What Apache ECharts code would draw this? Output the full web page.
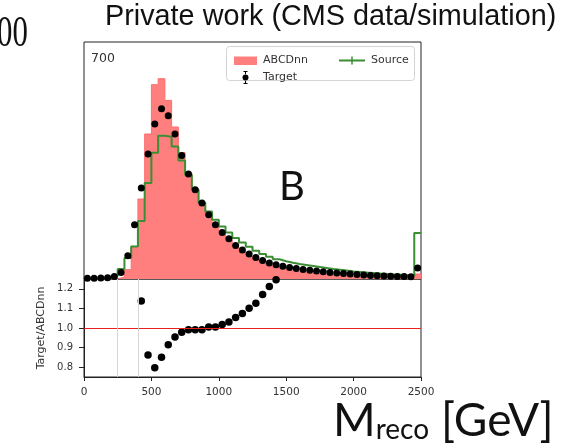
<!DOCTYPE html>
<html>
<head>
<meta charset="utf-8">
<script src="https://cdn.jsdelivr.net/npm/echarts@6/dist/echarts.min.js"></script>
<style>html,body{margin:0;padding:0;background:#fff}#c{width:564px;height:444px}</style>
</head>
<body>
<div id="c"></div>
<script>
// Bin edges (GeV)
const binEdges = [0,50,100,150,200,250,300,350,400,450,500,550,600,650,700,750,800,850,900,950,
  1000,1050,1100,1150,1200,1250,1300,1350,1400,1450,1500,1550,1600,1650,1700,1750,1800,1850,1900,1950,
  2000,2050,2100,2150,2200,2250,2300,2350,2400,2450,2500];
// Per-bin yields (arbitrary units)
const abcdnn = [0,0,0,0,0,20,93,326,800,1450,1943,2003,1786,1520,1264,1060,901,767,640,540,
  458,391,318,270,227,191,158,132,114,98,85,75,66,59,52,46,40,35,31,27,
  24,21,19,17,15,14,13,12,11,50];
const source = [8,8,8,9,30,100,210,326,580,960,1263,1433,1423,1326,1186,1043,893,763,676,593,
  526,466,410,365,322,283,250,222,198,178,162,150,140,130,120,110,100,92,84,76,
  70,64,59,54,50,46,42,38,35,460];
const target = [8,8,9,12,25,66,233,543,910,1250,1550,1703,1633,1450,1236,1050,893,760,643,543,
  466,403,335,290,250,215,185,160,142,127,115,105,96,88,80,73,66,60,54,49,
  44,40,36,33,30,28,26,24,23,110];
const xTicks = [0,500,1000,1500,2000,2500];
const ratioTicks = [0.8,0.9,1.0,1.1,1.2];
const refLinesX = [250,400];

const nb = abcdnn.length;
const centers = binEdges.slice(0, nb).map((e, i) => (e + binEdges[i + 1]) / 2);
const stepData = arr => binEdges.map((e, i) => [e, arr[Math.min(i, nb - 1)]]);
const ratioData = [];
for (let i = 0; i < nb; i++) {
  if (abcdnn[i] > 0) {
    const r = target[i] / abcdnn[i];
    if (r >= 0.75 && r <= 1.25) ratioData.push([centers[i], r]);
  }
}

const TF = 'DejaVu Sans';
const iconRect = 'path://M0,0L0,0ZM23,13L23,13ZM0,2.5H23V11H0Z';
const iconTarget = 'path://M0,0L0,0ZM23,13L23,13ZM9.5,0H13.5V1H9.5ZM9.5,12H13.5V13H9.5ZM11,1H12V4H11ZM11,9H12V12H11ZM8.5,6.5A3,3 0 1,0 14.5,6.5A3,3 0 1,0 8.5,6.5Z';
const iconSource = 'path://M0,0L0,0ZM26,13L26,13ZM0,5.5H26V7.5H0ZM12.25,2.5H13.75V5.5H12.25ZM12.25,7.5H13.75V10.5H12.25Z';

const chart = echarts.init(document.getElementById('c'), null, {renderer: 'canvas'});
chart.setOption({
  animation: false,
  backgroundColor: '#fff',
  grid: [
    {left: 84, top: 42, width: 337, height: 237, show: true, borderColor: '#222', borderWidth: 1, backgroundColor: 'transparent'},
    {left: 84, top: 279, width: 337, height: 98, show: true, borderColor: '#222', borderWidth: 1, backgroundColor: 'transparent'}
  ],
  xAxis: [
    {type: 'value', gridIndex: 0, min: 0, max: 2500, interval: 500,
     axisLine: {show: false}, axisTick: {show: false}, axisLabel: {show: false}, splitLine: {show: false}},
    {type: 'value', gridIndex: 1, min: 0, max: 2500, interval: 500,
     axisLine: {show: true, onZero: false, lineStyle: {color: '#222'}},
     axisTick: {show: true, length: 4, lineStyle: {color: '#222'}, customValues: xTicks},
     axisLabel: {show: true, margin: 10, fontSize: 10.5, fontFamily: TF, color: '#333',
       customValues: xTicks, formatter: v => String(v)},
     splitLine: {show: false}}
  ],
  yAxis: [
    {type: 'value', gridIndex: 0, min: 0, max: 2370,
     axisLine: {show: false}, axisTick: {show: false}, axisLabel: {show: false}, splitLine: {show: false}},
    {type: 'value', gridIndex: 1, min: 0.75, max: 1.25,
     name: 'Target/ABCDnn', nameLocation: 'middle', nameRotate: 90, nameGap: 37,
     nameTextStyle: {fontSize: 11, fontFamily: TF, color: '#333'},
     axisLine: {show: true, onZero: false, lineStyle: {color: '#222'}},
     axisTick: {show: true, length: 5, lineStyle: {color: '#222'}, customValues: ratioTicks},
     axisLabel: {show: true, margin: 11, fontSize: 10, fontFamily: TF, color: '#333',
       customValues: ratioTicks, formatter: v => v.toFixed(1)},
     splitLine: {show: false}}
  ],
  legend: [
    {left: 229, top: 49, orient: 'vertical', itemWidth: 23, itemHeight: 13, itemGap: 4, selectedMode: false,
     textStyle: {fontSize: 11, fontFamily: TF, color: '#333', padding: [0, 0, 0, 1]},
     data: [{name: 'ABCDnn', icon: iconRect, itemStyle: {color: '#ff7f7f'}},
            {name: 'Target', icon: iconTarget, itemStyle: {color: '#000', opacity: 1}}]},
    {left: 334, top: 49, orient: 'vertical', itemWidth: 26, itemHeight: 13, selectedMode: false,
     textStyle: {fontSize: 11, fontFamily: TF, color: '#333', padding: [0, 0, 0, 1]},
     data: [{name: 'Source', icon: iconSource, itemStyle: {color: '#3b8e33'}}]}
  ],
  graphic: [
    {type: 'rect', z: 3, shape: {x: 226.5, y: 46.5, width: 188, height: 34, r: 3},
     style: {fill: 'rgba(255,255,255,0.85)', stroke: '#d4d4d4', lineWidth: 1}},
    {type: 'text', z: 10, x: 105, y: 17,
     style: {text: 'Private work (CMS data/simulation)', font: '28.8px "Liberation Sans"', fill: '#111', textVerticalAlign: 'middle'}},
    {type: 'text', z: 10, x: -3, y: 34, scaleX: 0.7,
     style: {text: '00', font: '44px "Liberation Serif"', fill: '#111', textVerticalAlign: 'middle'}},
    {type: 'text', z: 10, x: 91, y: 59,
     style: {text: '700', font: '12.5px "DejaVu Sans"', fill: '#333', textVerticalAlign: 'middle'}},
    {type: 'text', z: 10, x: 279, y: 187,
     style: {text: 'B', font: '40px Lato', fill: '#111', textVerticalAlign: 'middle'}},
    {type: 'text', z: 10, x: 333, y: 394,
     style: {text: '{m|M}{s|reco}{g| [GeV]}', fill: '#111',
       rich: {m: {fontSize: 46, fontFamily: 'Lato', lineHeight: 50, verticalAlign: 'bottom'},
              s: {fontSize: 28, fontFamily: 'Lato', lineHeight: 22, verticalAlign: 'bottom'},
              g: {fontSize: 46, fontFamily: 'Lato', lineHeight: 50, verticalAlign: 'bottom'}}}}
  ],
  series: [
    {name: 'ABCDnn', type: 'line', xAxisIndex: 0, yAxisIndex: 0, step: 'end', data: stepData(abcdnn),
     showSymbol: false, symbol: 'none', z: 1,
     lineStyle: {color: '#ff6e6e', width: 1}, areaStyle: {color: '#ff7f7f', opacity: 1}, itemStyle: {color: '#ff7f7f'}},
    {name: 'Source', type: 'line', xAxisIndex: 0, yAxisIndex: 0, step: 'end', data: stepData(source),
     showSymbol: false, symbol: 'none', z: 3,
     lineStyle: {color: '#3b8e33', width: 2}, itemStyle: {color: '#3b8e33'}},
    {name: 'Target', type: 'scatter', xAxisIndex: 0, yAxisIndex: 0,
     data: centers.map((c, i) => [c, target[i]]), symbolSize: 7, z: 4, itemStyle: {color: '#000', opacity: 1}},
    {name: 'Ratio', type: 'scatter', xAxisIndex: 1, yAxisIndex: 1, data: ratioData, symbolSize: 7.5, z: 4,
     itemStyle: {color: '#000', opacity: 1},
     markLine: {silent: true, symbol: 'none', label: {show: false}, animation: false,
       data: [
         {yAxis: 1.0, lineStyle: {color: '#e82020', width: 1.2, type: 'solid'}},
         ...refLinesX.map(x => ({xAxis: x, lineStyle: {color: '#d6d6d6', width: 1, type: 'solid'}}))
       ]}}
  ]
});
</script>
</body>
</html>
